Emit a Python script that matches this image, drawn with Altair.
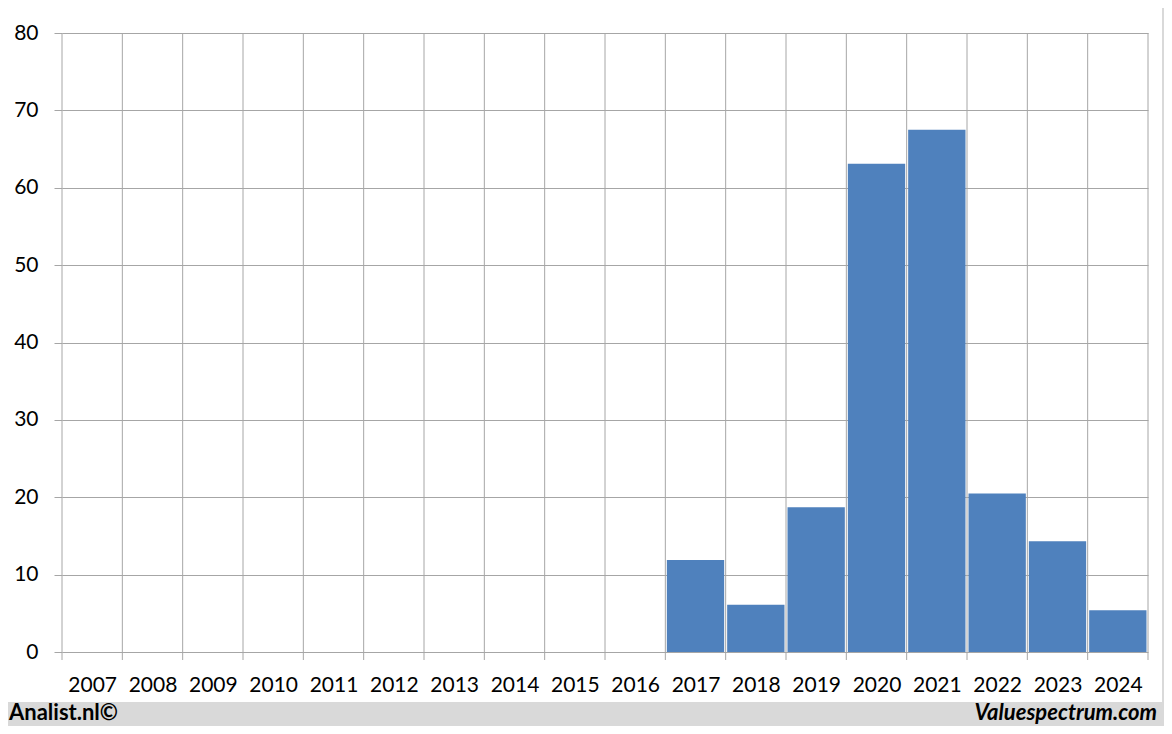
import altair as alt
import pandas as pd

years = list(range(2007, 2025))
values = [None, None, None, None, None, None, None, None, None, None,
          11.9, 6.1, 18.7, 63.1, 67.5, 20.5, 14.3, 5.4]
y_ticks = [0, 10, 20, 30, 40, 50, 60, 70, 80]
boundaries = [y - 0.5 for y in years] + [years[-1] + 0.5]

W, H = 1086, 619
FONT = "Lato"
GRID = "#a6a6a6"
FRAME = "#d9d9d9"

df = pd.DataFrame({"year": years, "value": values}).dropna()
bdf = pd.DataFrame({"b": boundaries})

xscale = alt.Scale(domain=[2006.5, 2024.5], zero=False, nice=False)
yscale = alt.Scale(domain=[0, 80], nice=False)

one = alt.Data(values=[{}])

footer = alt.Chart(one).mark_rect(color=FRAME).encode(
    x=alt.value(-54), x2=alt.value(1102), y=alt.value(669), y2=alt.value(693)
)
rstrip = alt.Chart(one).mark_rect(color=FRAME).encode(
    x=alt.value(1100), x2=alt.value(1102), y=alt.value(-25), y2=alt.value(693)
)

vrules = alt.Chart(bdf).mark_rule(color=GRID, strokeWidth=1).encode(
    x=alt.X("b:Q", scale=xscale,
            axis=alt.Axis(values=years, format="d", title=None, grid=False, ticks=False,
                          domain=False, labelFontSize=21, labelFont=FONT,
                          labelColor="black", labelPadding=22)),
    y=alt.value(0),
    y2=alt.value(H + 8),
)

bars = alt.Chart(df).mark_rect(color="#4f81bd", xOffset=1.5, x2Offset=-1.5).transform_calculate(
    x0="datum.year - 0.5", x1="datum.year + 0.5"
).encode(
    x=alt.X("x0:Q", scale=xscale),
    x2="x1:Q",
    y=alt.Y("value:Q", scale=yscale,
            axis=alt.Axis(values=y_ticks, title=None, grid=True, gridColor=GRID,
                          tickColor=GRID, tickSize=8, domain=False, labelFontSize=21,
                          labelFont=FONT, labelColor="black", labelPadding=16)),
    y2=alt.datum(0),
)

left_txt = alt.Chart(one).mark_text(
    text="Analist.nl©", font=FONT, fontSize=22, fontWeight="bold", align="left",
    baseline="alphabetic", color="black"
).encode(x=alt.value(-53), y=alt.value(687))

right_txt = alt.Chart(one).mark_text(
    text="Valuespectrum.com", font=FONT, fontSize=22, fontWeight="bold",
    fontStyle="italic", align="right", baseline="alphabetic", color="black"
).encode(x=alt.value(1095), y=alt.value(687))

chart = alt.layer(footer, rstrip, vrules, bars, left_txt, right_txt).properties(
    width=W, height=H,
    background="white",
    padding={"left": 54, "top": 25, "right": 16, "bottom": 74},
    autosize=alt.AutoSizeParams(type="none"),
).configure_view(stroke=None)

chart.save("out.html", embed_options={"renderer": "svg", "actions": False})
